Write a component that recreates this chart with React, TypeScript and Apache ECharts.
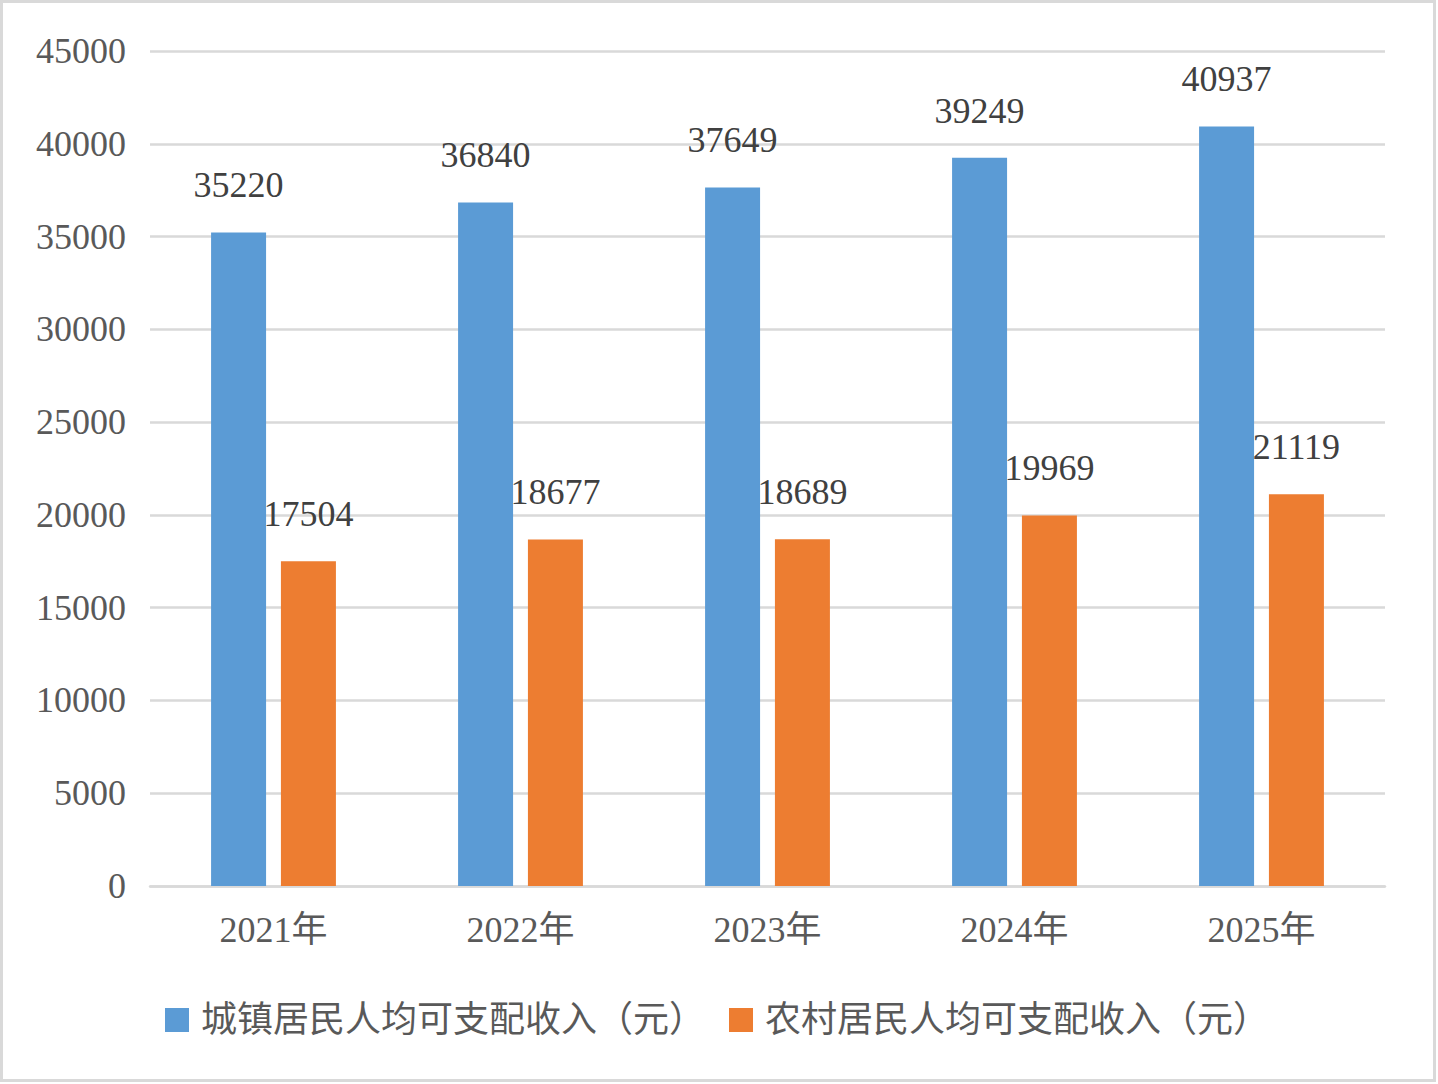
import React, { useEffect, useRef } from "react";
import * as echarts from "echarts";

const categories = ["2021年", "2022年", "2023年", "2024年", "2025年"];
const urbanName = "城镇居民人均可支配收入（元）";
const ruralName = "农村居民人均可支配收入（元）";
const urbanValues = [35220, 36840, 37649, 39249, 40937];
const ruralValues = [17504, 18677, 18689, 19969, 21119];
const yMin = 0;
const yMax = 45000;
const yInterval = 5000;

const FONT = "'Liberation Serif', 'Noto Sans CJK SC', serif";

export default function App() {
  const ref = useRef<HTMLDivElement>(null);
  useEffect(() => {
    document.body.style.margin = "0";
    if (!ref.current) return;
    const chart = echarts.init(ref.current, undefined, { renderer: "svg" });
    chart.setOption({
      animation: false,
      backgroundColor: "#ffffff",
      textStyle: { fontFamily: FONT },
      graphic: [
        {
          type: "rect",
          shape: { x: 1.5, y: 1.5, width: 1433, height: 1079 },
          style: { fill: "none", stroke: "#d9d9d9", lineWidth: 3 },
          silent: true,
        },
      ],
      grid: { left: 150, right: 53, top: 51, bottom: 198, containLabel: false },
      legend: {
        left: 165,
        top: 1002,
        padding: 0,
        itemWidth: 24,
        itemHeight: 24,
        itemGap: 24,
        icon: "rect",
        textStyle: {
          fontFamily: FONT,
          fontSize: 36,
          color: "#595959",
          padding: [0, 0, 0, 7],
        },
        data: [urbanName, ruralName],
      },
      xAxis: {
        type: "category",
        data: categories,
        axisLine: { show: true, lineStyle: { color: "#d9d9d9", width: 2.5 } },
        axisTick: { show: false },
        axisLabel: { fontFamily: FONT, fontSize: 36, color: "#595959", margin: 26 },
      },
      yAxis: {
        type: "value",
        min: yMin,
        max: yMax,
        interval: yInterval,
        axisLine: { show: false },
        axisTick: { show: false },
        axisLabel: {
          fontFamily: FONT,
          fontSize: 36,
          color: "#595959",
          margin: 24,
          formatter: (v: number) => String(v),
        },
        splitLine: { lineStyle: { color: "#d9d9d9", width: 2.5 } },
      },
      series: [
        {
          name: urbanName,
          type: "bar",
          data: urbanValues,
          barWidth: 55,
          barGap: "27%",
          itemStyle: { color: "#5b9bd5" },
          label: {
            show: true,
            position: "top",
            distance: 29,
            fontFamily: FONT,
            fontSize: 36,
            color: "#404040",
          },
        },
        {
          name: ruralName,
          type: "bar",
          data: ruralValues,
          barWidth: 55,
          itemStyle: { color: "#ed7d31" },
          label: {
            show: true,
            position: "top",
            distance: 29,
            fontFamily: FONT,
            fontSize: 36,
            color: "#404040",
          },
        },
      ],
    });
    return () => chart.dispose();
  }, []);
  return <div ref={ref} style={{ width: 1438, height: 1084 }} />;
}
